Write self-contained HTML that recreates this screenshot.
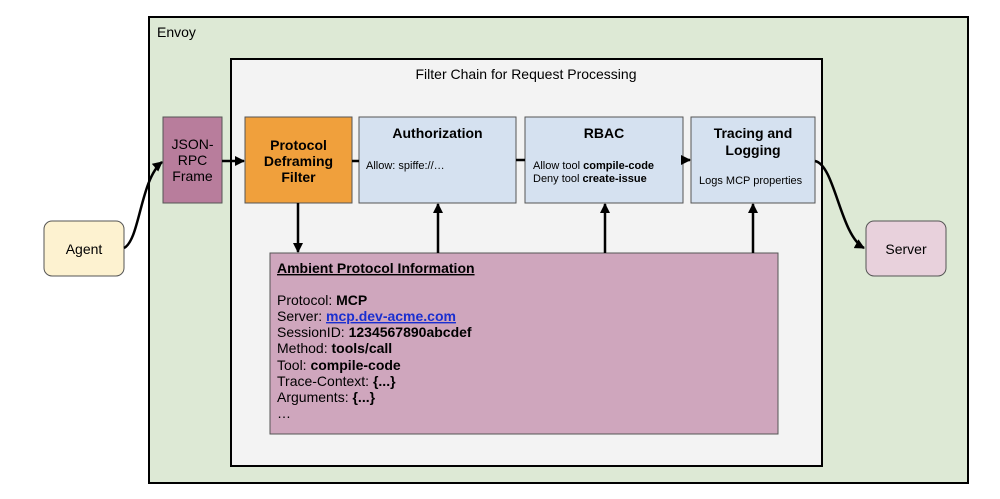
<!DOCTYPE html>
<html><head><style>body{margin:0;background:#fff}svg{display:block}text{font-family:"Liberation Sans",Arial,sans-serif;fill:#000}</style></head><body>
<svg width="1000" height="499" viewBox="0 0 1000 499">
<defs><marker id="a" markerWidth="10" markerHeight="10" refX="9" refY="5" orient="auto" markerUnits="userSpaceOnUse"><path d="M0,0 L10,5 L0,10 z" fill="#000"/></marker></defs>
<rect x="149" y="17" width="819" height="466" fill="#dde9d5" stroke="#000" stroke-width="2"/>
<text x="157" y="37" font-size="14">Envoy</text>
<rect x="231" y="59" width="591" height="407" fill="#f3f3f3" stroke="#000" stroke-width="2"/>
<text x="526" y="79" font-size="14" text-anchor="middle">Filter Chain for Request Processing</text>
<rect x="163" y="117" width="59" height="86" fill="#b87d9c" stroke="#555"/>
<text x="192.5" y="149" font-size="14" text-anchor="middle">JSON-</text>
<text x="192.5" y="165" font-size="14" text-anchor="middle">RPC</text>
<text x="192.5" y="181" font-size="14" text-anchor="middle">Frame</text>
<rect x="245" y="117" width="107" height="86" fill="#f0a03c" stroke="#555"/>
<text x="298.5" y="150" font-size="14" font-weight="bold" text-anchor="middle">Protocol</text>
<text x="298.5" y="166" font-size="14" font-weight="bold" text-anchor="middle">Deframing</text>
<text x="298.5" y="182" font-size="14" font-weight="bold" text-anchor="middle">Filter</text>
<rect x="359" y="117" width="157" height="86" fill="#d5e1f0" stroke="#555"/>
<text x="437.5" y="138" font-size="14" font-weight="bold" text-anchor="middle">Authorization</text>
<text x="366" y="169" font-size="11">Allow: spiffe://…</text>
<rect x="525" y="117" width="158" height="86" fill="#d5e1f0" stroke="#555"/>
<text x="604" y="138" font-size="14" font-weight="bold" text-anchor="middle">RBAC</text>
<text x="533" y="169" font-size="11">Allow tool <tspan font-weight="bold">compile-code</tspan></text>
<text x="533" y="182" font-size="11">Deny tool <tspan font-weight="bold">create-issue</tspan></text>
<rect x="691" y="117" width="124" height="86" fill="#d5e1f0" stroke="#555"/>
<text x="753" y="138" font-size="14" font-weight="bold" text-anchor="middle">Tracing and</text>
<text x="753" y="155" font-size="14" font-weight="bold" text-anchor="middle">Logging</text>
<text x="699" y="184" font-size="11">Logs MCP properties</text>
<rect x="270" y="253" width="508" height="181" fill="#cfa6bd" stroke="#555"/>
<text x="277" y="273" font-size="14" font-weight="bold" text-decoration="underline">Ambient Protocol Information</text>
<g font-size="14">
<text x="277" y="305">Protocol: <tspan font-weight="bold">MCP</tspan></text>
<text x="277" y="321">Server: <tspan font-weight="bold" fill="#1a2fd0" text-decoration="underline">mcp.dev-acme.com</tspan></text>
<text x="277" y="337">SessionID: <tspan font-weight="bold">1234567890abcdef</tspan></text>
<text x="277" y="353">Method: <tspan font-weight="bold">tools/call</tspan></text>
<text x="277" y="370">Tool: <tspan font-weight="bold">compile-code</tspan></text>
<text x="277" y="386">Trace-Context: <tspan font-weight="bold">{...}</tspan></text>
<text x="277" y="402">Arguments: <tspan font-weight="bold">{...}</tspan></text>
<text x="277" y="418">…</text>
</g>
<rect x="44" y="221" width="80" height="55" rx="8" fill="#fdf2d0" stroke="#555"/>
<text x="84" y="254" font-size="14" text-anchor="middle">Agent</text>
<rect x="866" y="221" width="80" height="55" rx="8" fill="#e8d1dc" stroke="#555"/>
<text x="906" y="254" font-size="14" text-anchor="middle">Server</text>
<g stroke="#000" stroke-width="2.5" fill="none">
<path d="M124,248 C140,240 140,180 162,162" marker-end="url(#a)"/>
<line x1="222" y1="161" x2="244" y2="161" marker-end="url(#a)"/>
<line x1="352" y1="161" x2="359" y2="161"/>
<line x1="516" y1="160" x2="525" y2="160"/>
<line x1="683" y1="160" x2="690" y2="160" marker-end="url(#a)"/>
<path d="M815,161 C835,165 840,235 864,248" marker-end="url(#a)"/>
<line x1="298" y1="203" x2="298" y2="252" marker-end="url(#a)"/>
<line x1="438" y1="253" x2="438" y2="204" marker-end="url(#a)"/>
<line x1="605" y1="253" x2="605" y2="204" marker-end="url(#a)"/>
<line x1="753" y1="253" x2="753" y2="204" marker-end="url(#a)"/>
</g>
</svg>
</body></html>
